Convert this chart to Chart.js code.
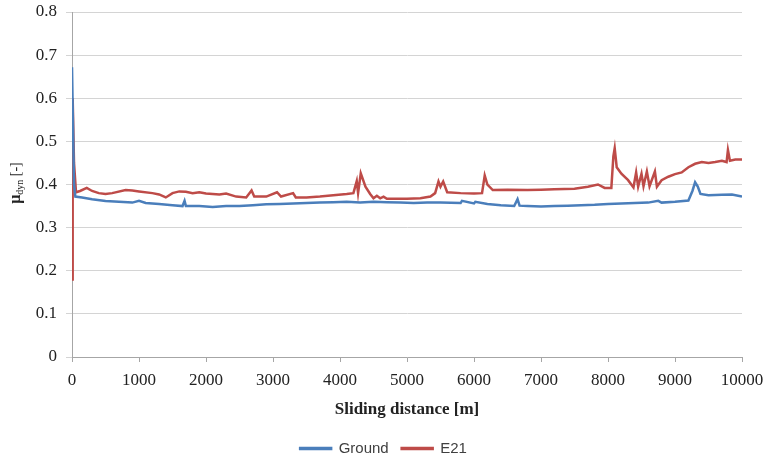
<!DOCTYPE html>
<html>
<head>
<meta charset="utf-8">
<script src="https://cdn.jsdelivr.net/npm/chart.js@4.4.0/dist/chart.umd.min.js"></script>
<style>
  body { margin: 0; background: #fff; }
  #wrap { width: 767px; height: 458px; position: relative; }
</style>
</head>
<body>
<div id="wrap"><canvas id="frictionChart"></canvas></div>
<script>
// Data
const yTicks = [0, 0.1, 0.2, 0.3, 0.4, 0.5, 0.6, 0.7, 0.8];
const xTicks = [0, 1000, 2000, 3000, 4000, 5000, 6000, 7000, 8000, 9000, 10000];

const groundDist = [0, 30, 50, 150, 300, 500, 700, 900, 1000, 1100, 1300, 1500, 1650, 1680, 1700, 1900,
  2100, 2300, 2500, 2700, 2900, 3100, 3300, 3500, 3700, 3900, 4100, 4300, 4500, 4700, 4900, 5100, 5300,
  5500, 5800, 5820, 6000, 6020, 6200, 6400, 6600, 6650, 6680, 6800, 7000, 7200, 7400, 7600, 7800, 8000,
  8200, 8400, 8600, 8750, 8800, 9000, 9200, 9260, 9300, 9340, 9380, 9500, 9700, 9850, 10000];
const groundMu = [0.672, 0.40, 0.372, 0.370, 0.366, 0.362, 0.360, 0.358, 0.362, 0.357, 0.355, 0.352, 0.350, 0.362, 0.350, 0.350,
  0.348, 0.350, 0.350, 0.352, 0.354, 0.355, 0.356, 0.357, 0.358, 0.359, 0.360, 0.358, 0.360, 0.359, 0.358, 0.357, 0.358,
  0.358, 0.357, 0.362, 0.356, 0.360, 0.355, 0.352, 0.350, 0.366, 0.351, 0.350, 0.349, 0.350, 0.351, 0.352, 0.353, 0.355,
  0.356, 0.357, 0.358, 0.362, 0.358, 0.360, 0.363, 0.385, 0.405, 0.395, 0.378, 0.375, 0.376, 0.377, 0.372];

const e21Dist = [0, 10, 30, 60, 120, 220, 300, 400, 500, 600, 800, 900, 1000, 1200, 1300, 1400, 1500, 1600, 1700,
  1800, 1900, 2000, 2100, 2200, 2300, 2450, 2600, 2680, 2720, 2900, 3060, 3120, 3300, 3340, 3500, 3700, 3900,
  4100, 4200, 4250, 4270, 4310, 4380, 4450, 4500, 4550, 4600, 4650, 4700, 5000, 5200, 5350, 5420, 5470, 5500,
  5540, 5600, 5800, 6000, 6120, 6160, 6200, 6280, 6500, 6800, 7000, 7200, 7500, 7700, 7850, 7950, 8050, 8080,
  8100, 8130, 8200, 8300, 8380, 8420, 8450, 8500, 8530, 8580, 8620, 8700, 8730, 8800, 8900, 9000, 9100, 9200,
  9300, 9400, 9500, 9600, 9700, 9770, 9790, 9820, 9900, 10000];
const e21Mu = [0.18, 0.60, 0.45, 0.382, 0.385, 0.392, 0.385, 0.380, 0.378, 0.380, 0.387, 0.386, 0.384, 0.380, 0.377, 0.370, 0.380, 0.384, 0.383,
  0.380, 0.382, 0.379, 0.378, 0.377, 0.379, 0.372, 0.370, 0.386, 0.372, 0.372, 0.382, 0.372, 0.380, 0.370, 0.370, 0.372, 0.375,
  0.378, 0.380, 0.408, 0.380, 0.426, 0.395, 0.378, 0.368, 0.374, 0.368, 0.372, 0.367, 0.367, 0.368, 0.372, 0.380, 0.407, 0.395,
  0.407, 0.382, 0.380, 0.379, 0.380, 0.421, 0.400, 0.387, 0.388, 0.387, 0.388, 0.389, 0.390, 0.395, 0.400, 0.392, 0.392, 0.465,
  0.484, 0.440, 0.425, 0.410, 0.393, 0.428, 0.395, 0.425, 0.396, 0.430, 0.396, 0.430, 0.395, 0.410, 0.418, 0.424, 0.428, 0.440,
  0.448, 0.452, 0.450, 0.452, 0.455, 0.452, 0.480, 0.455, 0.458, 0.458];

const toPoints = (xs, ys) => xs.map((x, i) => ({ x: x, y: ys[i] }));

// y axis title with subscript, drawn rotated left of the ticks
const yTitlePlugin = {
  id: 'yTitle',
  afterDraw(chart) {
    const c = chart.ctx;
    c.save();
    c.translate(15, 183);
    c.rotate(-Math.PI / 2);
    c.fillStyle = '#222';
    c.textBaseline = 'alphabetic';
    const parts = [
      { t: 'μ', f: 'bold 16px "Liberation Serif"', dy: 0 },
      { t: 'dyn', f: '10px "Liberation Serif"', dy: 3 },
      { t: ' [-]', f: '14px "Liberation Serif"', dy: 0 }
    ];
    let total = 0;
    parts.forEach(p => { c.font = p.f; p.w = c.measureText(p.t).width; total += p.w; });
    let x = -total / 2;
    parts.forEach(p => {
      c.font = p.f;
      c.fillText(p.t, x, 5 + p.dy);
      x += p.w;
    });
    c.restore();
  }
};

// centre the legend on the whole page, not just left of the right padding
const legendShift = {
  id: 'legendShift',
  afterLayout(chart) {
    if (chart.legend) {
      chart.legend.left += 12.5;
      chart.legend.right += 12.5;
    }
  }
};

const ctx = document.getElementById('frictionChart');
const frictionChart = new Chart(ctx, {
  type: 'line',
  data: {
    datasets: [
      {
        label: 'Ground',
        data: toPoints(groundDist, groundMu),
        borderColor: '#4a7ebb',
        backgroundColor: '#4a7ebb',
        borderWidth: 2.5,
        pointRadius: 0,
        tension: 0
      },
      {
        label: 'E21',
        data: toPoints(e21Dist, e21Mu),
        borderColor: '#be4b48',
        backgroundColor: '#be4b48',
        borderWidth: 2.5,
        pointRadius: 0,
        tension: 0
      }
    ]
  },
  options: {
    responsive: true,
    maintainAspectRatio: false,
    animation: false,
    layout: { padding: { top: 12, right: 25, bottom: -8, left: 0 } },
    plugins: {
      tooltip: { enabled: false },
      legend: {
        position: 'bottom',
        labels: {
          color: '#404040',
          font: { family: 'Liberation Sans', size: 15 },
          boxWidth: 31,
          boxHeight: 1,
          padding: 13
        }
      }
    },
    scales: {
      x: {
        type: 'linear',
        min: 0,
        max: 10000,
        afterBuildTicks: scale => { scale.ticks = xTicks.map(v => ({ value: v })); },
        afterFit: scale => {
          // the last label may hang past the plot edge, as in the reference
          scale.paddingLeft = 0;
          scale.paddingRight = 0;
        },
        ticks: {
          color: '#222',
          font: { family: 'Liberation Serif', size: 17 },
          padding: 8,
          maxRotation: 0,
          callback: v => String(v)
        },
        grid: { drawOnChartArea: false, drawTicks: true, tickLength: 5, color: '#a6a6a6' },
        border: { color: '#a6a6a6' },
        title: {
          display: true,
          text: 'Sliding distance [m]',
          color: '#222',
          font: { family: 'Liberation Serif', size: 17, weight: 'bold' },
          padding: { top: 1.4, bottom: 7.8 }
        }
      },
      y: {
        min: 0,
        max: 0.8,
        afterBuildTicks: scale => { scale.ticks = yTicks.map(v => ({ value: v })); },
        afterFit: scale => {
          scale.width = 72;
          // keep the tick padding from pushing the plot area down
          scale.paddingTop = 0;
          scale.paddingBottom = 0;
        },
        ticks: {
          color: '#222',
          font: { family: 'Liberation Serif', size: 17 },
          padding: 9,
          callback: v => v === 0 ? '0' : v.toFixed(1)
        },
        grid: { color: '#d4d4d4', tickLength: 6 },
        border: { color: '#a6a6a6' }
      }
    }
  },
  plugins: [yTitlePlugin, legendShift]
});
</script>
</body>
</html>
